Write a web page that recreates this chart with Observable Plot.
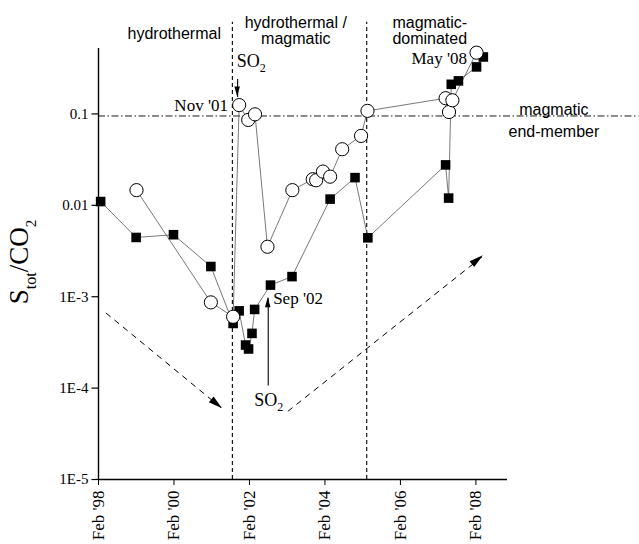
<!DOCTYPE html>
<html>
<head>
<meta charset="utf-8">
<script src="https://cdn.jsdelivr.net/npm/d3@7"></script>
<script src="https://cdn.jsdelivr.net/npm/@observablehq/plot@0.6"></script>
<style>
  html, body { margin: 0; padding: 0; background: #fff; }
  #chart svg { display: block; }
</style>
</head>
<body>
<div id="chart"></div>
<script>
// ---------- data (decimal year, S_tot/CO2 ratio) ----------
const squareYear  = [1998.14, 1999.08, 2000.07, 2001.06, 2001.65, 2001.81, 2001.98, 2002.06, 2002.15, 2002.22, 2002.64, 2003.21, 2004.22, 2004.88, 2005.22, 2007.28, 2007.36, 2007.43, 2007.62, 2008.10, 2008.28];
const squareRatio = [0.0110, 0.00445, 0.00477, 0.00214, 5.1e-4, 7.0e-4, 2.96e-4, 2.68e-4, 3.97e-4, 7.26e-4, 1.34e-3, 1.66e-3, 0.0117, 0.0201, 0.00441, 0.0277, 0.0120, 0.211, 0.230, 0.327, 0.420];

const circleYear  = [1999.09, 2001.06, 2001.65, 2001.81, 2002.05, 2002.23, 2002.56, 2003.22, 2003.76, 2003.85, 2004.03, 2004.22, 2004.54, 2005.04, 2005.21, 2007.28, 2007.37, 2007.46, 2008.10];
const circleRatio = [0.01466, 8.67e-4, 6.04e-4, 0.125, 0.086, 0.099, 0.00352, 0.01466, 0.0193, 0.0188, 0.0234, 0.0206, 0.0411, 0.0575, 0.108, 0.1486, 0.105, 0.141, 0.468];

const xTickValues = [1998.083, 2000.083, 2002.083, 2004.083, 2006.083, 2008.083];
const xTickLabels = ["Feb '98", "Feb '00", "Feb '02", "Feb '04", "Feb '06", "Feb '08"];
const yTickValues = [1e-5, 1e-4, 1e-3, 0.01, 0.1];
const yTickLabels = ["1E-5", "1E-4", "1E-3", "0.01", "0.1"];

const xDomain = [1998.083, 2008.92];
const yDomain = [1e-5, 0.52];

const phaseBoundaryYears = [2001.63, 2005.19];
const endMemberRatio = 0.095;

// ---------- tables ----------
const squares = squareYear.map((x, i) => ({x, y: squareRatio[i]}));
const circles = circleYear.map((x, i) => ({x, y: circleRatio[i]}));
const yTicks = yTickValues.map((y, i) => ({y, label: yTickLabels[i]}));

// annotation anchors (data units)
const phaseTexts = [
  {x: 2000.09, y: 0.75, text: "hydrothermal"},
  {x: 2003.31, y: 0.81, text: "hydrothermal /\nmagmatic"},
  {x: 2006.86, y: 0.81, text: "magmatic-\ndominated"}
];
const endMemberText = [{x: 2010.15, y: 0.088, text: "magmatic\nend-member"}];
const dateTextsEnd = [
  {x: 2001.513, y: 0.1223, text: "Nov '01"},
  {x: 2007.846, y: 0.399, text: "May '08"}
];
const dateTextsStart = [
  {x: 2002.71, y: 9.44e-4, text: "Sep '02"}
];
const trendArrows = [
  {x1: 1998.28, y1: 6.64e-4, x2: 2001.37, y2: 5.93e-5},
  {x1: 2003.10, y1: 5.57e-5, x2: 2008.28, y2: 2.8e-3}
];
const so2Arrows = [
  {x1: 2001.77, y1: 0.241, x2: 2001.77, y2: 0.153},
  {x1: 2002.58, y1: 1.07e-4, x2: 2002.58, y2: 9.75e-4}
];
const so2Labels = [
  {x: 2001.76, y: 0.36},
  {x: 2002.225, y: 6.9e-5}
];

const serif = "'Liberation Serif', 'Times New Roman', serif";
const sans = "'Liberation Sans', Arial, sans-serif";

// short horizontal tick pointing left of the anchor
const leftTick = {draw(ctx) { ctx.moveTo(-7, 0); ctx.lineTo(0, 0); }};

const plot = Plot.plot({
  width: 639,
  height: 544,
  marginLeft: 98,
  marginRight: 132,
  marginTop: 48,
  marginBottom: 65,
  style: {fontFamily: serif, fontSize: "15px", background: "#fff", color: "#000", overflow: "visible"},
  x: {domain: xDomain, axis: null},
  y: {type: "log", domain: yDomain, axis: null},
  marks: [
    // phase boundaries
    Plot.ruleX(phaseBoundaryYears, {y1: () => yDomain[0], y2: () => 1.01, stroke: "#000", strokeWidth: 1.1, strokeDasharray: "4,3"}),
    // magmatic end-member
    Plot.ruleY([endMemberRatio], {x1: () => xDomain[0], x2: () => 2012.4, stroke: "#000", strokeWidth: 0.9, strokeDasharray: "7,2.5,1.5,2.5"}),
    // trend arrows (dashed)
    Plot.link(trendArrows, {x1: "x1", y1: "y1", x2: "x2", y2: "y2", stroke: "#000", strokeWidth: 1, strokeDasharray: "6,5"}),
    // SO2 arrows
    Plot.link(so2Arrows, {x1: "x1", y1: "y1", x2: "x2", y2: "y2", stroke: "#000", strokeWidth: 1.1}),
    // series lines
    Plot.line(squares, {x: "x", y: "y", stroke: "#555", strokeWidth: 0.8}),
    Plot.line(circles, {x: "x", y: "y", stroke: "#555", strokeWidth: 0.8}),
    // points
    Plot.dot(squares, {x: "x", y: "y", symbol: "square", r: 5.4, fill: "#000", stroke: "none"}),
    Plot.dot(circles, {x: "x", y: "y", r: 6.6, fill: "#fff", stroke: "#000", strokeWidth: 1}),
    // axis lines
    Plot.ruleX([xDomain[0]], {y1: () => yDomain[0], y2: () => yDomain[1], stroke: "#000", strokeWidth: 1.4}),
    Plot.ruleY([yDomain[0]], {x1: () => xDomain[0], x2: () => xDomain[1], stroke: "#000", strokeWidth: 1.4}),
    // y axis ticks + labels
    Plot.dot(yTicks, {x: () => xDomain[0], y: "y", symbol: leftTick, stroke: "#000", strokeWidth: 1.2, r: 4}),
    Plot.text(yTicks, {x: () => xDomain[0], y: "y", text: "label", textAnchor: "end", dx: -10, fontFamily: serif, fontSize: 15, fill: "#000"}),
    // x axis
    Plot.axisX({ticks: xTickValues, tickFormat: (d, i) => xTickLabels[i], tickSize: 6, tickPadding: 5, tickRotate: -90, label: null, fontSize: 17, stroke: "#000"}),
    // texts
    Plot.text(phaseTexts, {x: "x", y: "y", text: "text", fontFamily: sans, fontSize: 16, lineHeight: 0.98, fill: "#000"}),
    Plot.text(endMemberText, {x: "x", y: "y", text: "text", fontFamily: sans, fontSize: 16, lineHeight: 1.35, fill: "#000"}),
    Plot.text(dateTextsEnd, {x: "x", y: "y", text: "text", textAnchor: "end", fontFamily: serif, fontSize: 17, fill: "#000"}),
    Plot.text(dateTextsStart, {x: "x", y: "y", text: "text", textAnchor: "start", fontFamily: serif, fontSize: 17, fill: "#000"})
  ]
});

document.getElementById("chart").appendChild(plot);

// ---------- post-render: filled arrowheads, sub-scripted labels ----------
function scaleFn(name) {
  const s = plot.scale(name);
  if (s && typeof s.apply === "function") return v => s.apply(v);
  const sc = (s.type === "log" ? d3.scaleLog() : d3.scaleLinear()).domain(s.domain).range(s.range);
  return v => sc(v);
}
const sx = scaleFn("x"), sy = scaleFn("y");
const svg = d3.select(plot);

function arrowHead(p1, p2, len, wid) {
  const a = Math.atan2(p2[1] - p1[1], p2[0] - p1[0]);
  const bx = p2[0] - len * Math.cos(a), by = p2[1] - len * Math.sin(a);
  const nx = -Math.sin(a) * wid / 2, ny = Math.cos(a) * wid / 2;
  svg.append("path")
    .attr("d", `M${p2[0]},${p2[1]}L${bx + nx},${by + ny}L${bx - nx},${by - ny}Z`)
    .attr("fill", "#000");
}
trendArrows.forEach(d => arrowHead([sx(d.x1), sy(d.y1)], [sx(d.x2), sy(d.y2)], 14, 7.5));
so2Arrows.forEach(d => arrowHead([sx(d.x1), sy(d.y1)], [sx(d.x2), sy(d.y2)], 10, 5.5));

function richText(x, y, parts, attrs) {
  const t = svg.append("text").attr("x", x).attr("y", y).attr("font-family", serif).attr("fill", "#000");
  Object.entries(attrs || {}).forEach(([k, v]) => t.attr(k, v));
  let shift = 0;
  parts.forEach(([str, size, dy]) => {
    t.append("tspan").attr("font-size", size).attr("dy", dy - shift).text(str);
    shift = dy;
  });
  return t;
}
so2Labels.forEach(d => {
  richText(sx(d.x), sy(d.y), [["SO", 18, 0], ["2", 12, 6]], {"dominant-baseline": "middle", "text-anchor": "start"});
});
// y-axis title
richText(0, 0, [["S", 27, 0], ["tot", 16, 8], ["/CO", 27, 0], ["2", 15, 8]], {
  "text-anchor": "middle",
  "transform": "translate(28,262) rotate(-90)"
});
</script>
</body>
</html>
